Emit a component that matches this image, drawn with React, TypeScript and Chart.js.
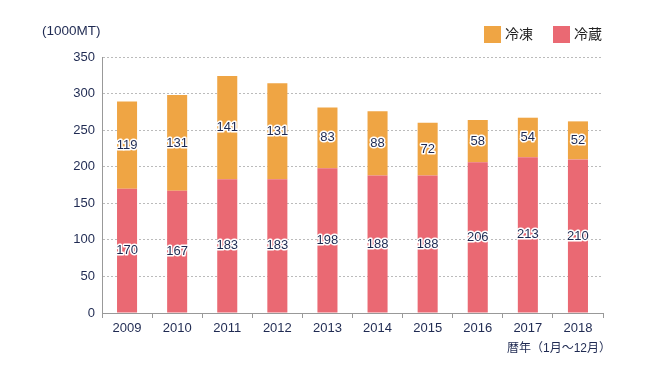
import React, { useEffect, useRef } from "react";
import { Chart, registerables } from "chart.js";

Chart.register(...registerables);

const years = ["2009", "2010", "2011", "2012", "2013", "2014", "2015", "2016", "2017", "2018"];
const chilled = [170, 167, 183, 183, 198, 188, 188, 206, 213, 210]; // 冷蔵
const frozen = [119, 131, 141, 131, 83, 88, 72, 58, 54, 52]; // 冷凍
const yTicks = [0, 50, 100, 150, 200, 250, 300, 350];

const unitLabel = "(1000MT)";
const xTitle = "暦年（1月～12月）";
const frozenName = "冷凍";
const chilledName = "冷蔵";

const ORANGE = "#EFA544";
const RED = "#EA6973";
const NAVY = "#1F2A52";
const FONT = "'Liberation Sans', 'Noto Sans CJK JP', Arial, sans-serif";

const overlay = {
  id: "overlay",
  afterDatasetsDraw(chart: any) {
    const ctx = chart.ctx;
    ctx.save();
    ctx.font = `13px ${FONT}`;
    ctx.textAlign = "center";
    ctx.textBaseline = "middle";
    ctx.lineJoin = "round";
    chart.data.datasets.forEach((ds: any, di: number) => {
      const meta = chart.getDatasetMeta(di);
      meta.data.forEach((bar: any, i: number) => {
        const yMid = (bar.y + bar.base) / 2;
        const t = String(ds.data[i]);
        ctx.strokeStyle = "#ffffff";
        ctx.lineWidth = 3;
        ctx.strokeText(t, bar.x, yMid);
        ctx.fillStyle = NAVY;
        ctx.fillText(t, bar.x, yMid);
      });
    });
    ctx.font = `13.5px ${FONT}`;
    ctx.fillStyle = NAVY;
    ctx.textAlign = "left";
    ctx.textBaseline = "middle";
    ctx.fillText(unitLabel, 42, 31);
    ctx.font = `12px ${FONT}`;
    ctx.textAlign = "right";
    ctx.fillText(xTitle, chart.chartArea.right + 8, 349);
    const items = [
      { name: frozenName, color: ORANGE, x: 484 },
      { name: chilledName, color: RED, x: 553 },
    ];
    ctx.font = `14px ${FONT}`;
    ctx.textAlign = "left";
    items.forEach((it) => {
      ctx.fillStyle = it.color;
      ctx.fillRect(it.x, 26, 17, 17);
      ctx.fillStyle = "#222222";
      ctx.fillText(it.name, it.x + 21, 35);
    });
    ctx.restore();
  },
};

export default function App() {
  const ref = useRef<HTMLCanvasElement>(null);
  useEffect(() => {
    const chart = new Chart(ref.current as HTMLCanvasElement, {
      type: "bar",
      data: {
        labels: years,
        datasets: [
          { label: chilledName, data: chilled, backgroundColor: RED, barPercentage: 0.4, categoryPercentage: 1 },
          { label: frozenName, data: frozen, backgroundColor: ORANGE, barPercentage: 0.4, categoryPercentage: 1 },
        ],
      },
      options: {
        responsive: false,
        animation: false,
        layout: { padding: { left: 0, right: 47, top: 57, bottom: 0 } },
        plugins: { legend: { display: false }, tooltip: { enabled: false } },
        scales: {
          x: {
            stacked: true,
            afterFit: (s: any) => { s.height = 67; },
            grid: { display: true, drawOnChartArea: false, drawTicks: true, tickLength: 5, color: "#999999", offset: true },
            border: { display: true, color: "#999999", width: 1 },
            ticks: { color: NAVY, font: { size: 13, family: FONT }, padding: 3 },
          },
          y: {
            stacked: true,
            min: 0,
            max: 350,
            afterFit: (s: any) => { s.width = 102; },
            afterBuildTicks: (s: any) => { s.ticks = yTicks.map((v) => ({ value: v })); },
            grid: { color: "#BBBBBB", drawTicks: false },
            border: { display: true, color: "#999999", width: 1, dash: [2, 2] },
            ticks: { color: NAVY, font: { size: 13, family: FONT }, padding: 7 },
          },
        },
      },
      plugins: [overlay],
    } as any);
    return () => chart.destroy();
  }, []);
  return (
    <div style={{ position: "fixed", left: 0, top: 0, width: 650, height: 380, background: "#fff" }}>
      <canvas ref={ref} width={650} height={380} />
    </div>
  );
}
